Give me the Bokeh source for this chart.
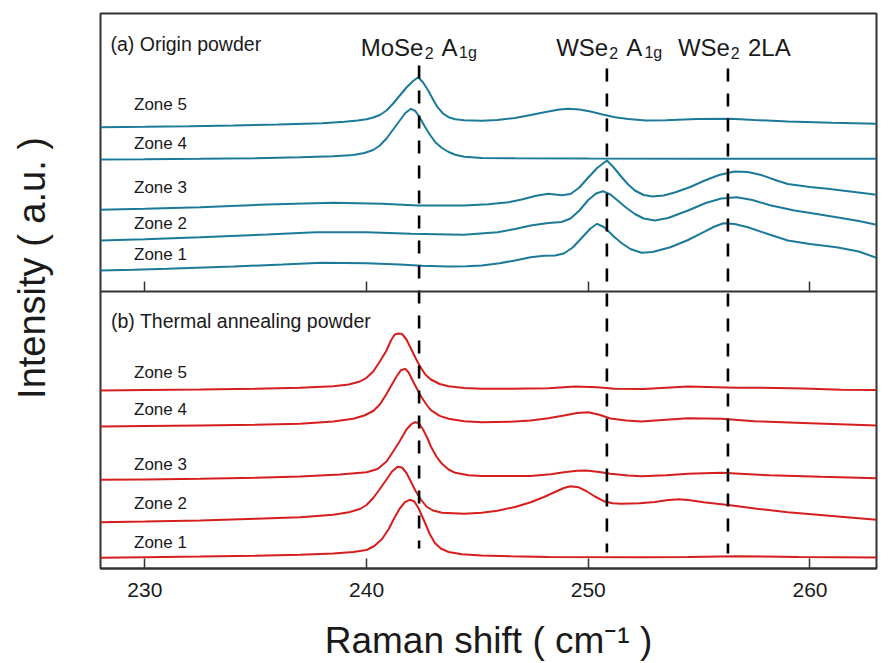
import math
from bokeh.plotting import figure
from bokeh.layouts import row
from bokeh.models import Range1d, LinearAxis, FixedTicker, Label
from bokeh.embed import file_html
from bokeh.resources import INLINE

# ---------------- data ----------------
x_ticks = [230, 240, 250, 260]
peak_positions = [242.37, 250.84, 256.3]          # MoSe2 A1g, WSe2 A1g, WSe2 2LA
zone_names = ["Zone 1", "Zone 2", "Zone 3", "Zone 4", "Zone 5"]

# (a) Origin powder, offset intensity (a.u.)
a_zone5_x = [228, 230, 232, 234, 236, 238, 239, 239.6, 240, 240.3, 240.6, 240.9, 241.2, 241.5, 241.8, 242.1,
             242.33, 242.55, 242.78, 243.0, 243.2, 243.45, 243.7, 244.0, 244.4, 245.2, 245.9, 246.7, 247.4,
             248.2, 248.7, 249.1, 249.6, 250.1, 250.6, 251.2, 251.8, 252.6, 253.5, 254.9, 256.4, 257.5, 259,
             261, 263]
a_zone5_y = [164.3, 164.7, 165.2, 166, 167, 168.3, 169.8, 171, 172.3, 174, 176.5, 181, 188, 196, 204, 210.5,
             214.3, 209, 201, 192, 184.3, 178, 174.3, 172.3, 171.2, 170.8, 171.4, 173.5, 176.5,
             180, 182, 182.7, 182, 180, 177.3, 174.3, 172.5, 171, 171.2, 172.5, 172.7, 171.5, 170,
             168.7, 167.7]
a_zone4_x = [228, 230, 232.5, 235, 237, 238.5, 239.4, 239.9, 240.3, 240.6, 240.9, 241.2, 241.5, 241.75, 242.0,
             242.2, 242.4, 242.6, 242.85, 243.1, 243.4, 243.7, 244.0, 244.4, 245.2, 246.7, 250, 255, 263]
a_zone4_y = [132, 132.3, 132.7, 133.3, 134.3, 135.3, 136.5, 138.5, 141.5, 146, 153, 162, 171, 178.5, 182.7,
             180.5, 174, 166, 157, 149.3, 143.5, 139.5, 136.8, 134.8, 133.6, 133.3, 132.9, 132.7, 132.7]
a_zone3_x = [228, 230, 232.5, 235.5, 238.5, 240.7, 242.33, 244.4, 245.5, 246.4, 247.0, 247.6, 248.2, 248.8,
             249.2, 249.6, 250.0, 250.4, 250.84, 251.15, 251.5, 251.8, 252.1, 252.5, 252.9, 253.4, 253.9,
             254.6, 255.2, 255.9, 256.6, 257.2, 257.8, 258.5, 259.0, 260, 260.8, 262, 263]
a_zone3_y = [81.7, 82.8, 84.3, 87, 88.7, 87.7, 86, 86, 87.3, 89.3, 92, 95.5, 97.7, 96.2,
             97.5, 104, 114, 123.5, 131, 124, 114.5, 107, 101, 96.5, 95, 96, 99,
             104.5, 110.5, 116.5, 120, 119.5, 116.5, 111, 107.5, 104.5, 102.7, 99.5, 96.7]
a_zone2_x = [228, 230, 232.5, 235.5, 237.7, 240, 242.0, 244.4, 245.9, 246.7, 247.4, 248.2, 248.8, 249.2,
             249.6, 250.0, 250.35, 250.66, 251.0, 251.3, 251.7, 252.1, 252.5, 253.0, 253.6, 254.5, 255.3,
             256.0, 256.7, 257.4, 258.2, 259.3, 260.3, 261.2, 262.2, 263]
a_zone2_y = [51, 52.3, 54.3, 57, 59.3, 59.3, 57.7, 56.7, 59.3, 62.5, 66, 68.5, 69.5, 73,
             81, 91.5, 98, 100.3, 97, 91.5, 84, 77.5, 73, 71, 73.5, 81, 88.5,
             93, 94.3, 91.5, 86.3, 81, 77.5, 74.3, 70.5, 66.7]
a_zone1_x = [228, 229.5, 231, 234, 236.2, 238, 240, 241.5, 242.5, 243.7, 244.5, 245.2, 246.0, 246.7, 247.4,
             248.0, 248.5, 248.9, 249.3, 249.7, 250.1, 250.4, 250.7, 250.9, 251.2, 251.5, 251.9, 252.4,
             252.9, 253.7, 254.5, 255.2, 255.7, 256.1, 256.6, 257.2, 258.1, 259.0, 260, 261.2, 262.2, 263]
a_zone1_y = [21, 21.7, 22.7, 25, 27, 28.8, 28.3, 27, 25.8, 25, 25.3, 26, 28.3, 31, 34.3,
             35.8, 36, 38, 44, 53.5, 63, 67.7, 64.5, 60.5, 54, 48.5, 42.5, 38.8,
             39.5, 44.3, 51.5, 59.3, 65, 68.3, 67.5, 64.3, 57.5, 51, 47.5, 44.3, 40, 33.7]

# (b) Thermal annealing powder, offset intensity (a.u.)
b_zone5_x = [228, 230, 232.5, 235, 237, 238.5, 239.2, 239.7, 240.0, 240.3, 240.6, 240.9, 241.1, 241.27,
             241.45, 241.6, 241.8, 242.0, 242.2, 242.4, 242.65, 242.9, 243.3, 243.7, 244.4, 245.2, 246.5,
             248.2, 249.4, 250.4, 251.2, 252.5, 254.5, 256.7, 258.5, 259.7, 261.4, 263]
b_zone5_y = [178, 178.4, 179, 179.8, 180.7, 182.3, 184, 187, 190.7, 197, 207, 218, 228, 234,
             235, 234.5, 229, 220, 211, 202.5, 194, 189, 184.5, 182.2, 180.6, 179.8, 179.8,
             180.3, 182, 181.3, 179.8, 179.4, 182, 180.7, 180.6, 180.1, 178.8, 178.6]
b_zone4_x = [228, 230, 232.5, 235, 237, 238.5, 239.4, 239.9, 240.3, 240.6, 240.9, 241.13, 241.35, 241.55,
             241.75, 241.9, 242.1, 242.3, 242.48, 242.7, 242.9, 243.3, 243.7, 244.4, 245.2, 246.5, 247.4,
             248.2, 248.9, 249.5, 250.0, 250.5, 251.0, 251.7, 252.4, 253.5, 254.5, 256.0, 257.5, 260, 263]
b_zone4_y = [142, 142.4, 143, 143.7, 144.7, 147, 149.7, 153, 157.5, 164, 174.5, 183.5, 192, 198.3,
             199.7, 196, 187, 178.5, 171.3, 164, 158.3, 152.6, 149.7, 147.2, 146.3, 146.8, 148,
             150.3, 153, 155.5, 156.3, 153.8, 150, 148, 147, 148.8, 150.3, 149.7, 147.2, 145.3, 143]
b_zone3_x = [228, 230, 232.5, 235, 237, 238.8, 240, 240.5, 240.9, 241.2, 241.5, 241.8, 242.0, 242.18,
             242.35, 242.55, 242.75, 242.9, 243.15, 243.4, 243.7, 244.0, 244.6, 245.2, 247.4, 248.3,
             248.9, 249.5, 249.9, 250.5, 251.0, 251.8, 252.4, 253.5, 254.5, 256.0, 258.2, 260.5, 263]
b_zone3_y = [88.7, 89.1, 89.7, 90.7, 92, 94, 96.3, 99.5, 107, 117, 127.5, 139, 144, 146.3,
             145.5, 139, 130, 122, 112, 104.7, 99, 95.7, 93.3, 92.4, 92.5, 94.3,
             96.3, 97.8, 98, 96.5, 94.7, 93, 92.2, 93.3, 94.7, 95.7, 93.2, 91.7, 90.3]
b_zone2_x = [228, 230, 232.5, 235, 237, 238.5, 239.2, 239.7, 240.0, 240.3, 240.6, 240.9, 241.15, 241.4,
             241.6, 241.8, 242.0, 242.2, 242.45, 242.7, 243.0, 243.4, 244.4, 245.2, 245.9, 246.7, 247.4,
             248.0, 248.5, 248.9, 249.2, 249.55, 249.9, 250.3, 250.7, 251.1, 251.5, 252.3, 253.0, 253.6,
             254.1, 254.6, 255.2, 256.4, 257.6, 259.0, 261, 263]
b_zone2_y = [46.3, 46.9, 48, 49.8, 51.3, 53.8, 56.3, 59.5, 63.5, 70.5, 79.5, 89, 97, 101.8,
             101, 95.5, 87, 78, 69, 62, 58, 55.8, 54.7, 55.8, 57.8, 61.5, 66.3,
             71.5, 76.5, 80.5, 82.3, 81.3, 77.5, 72, 67.3, 65.3, 64.7, 65.3, 66.5, 68.5,
             69.2, 68.3, 66.3, 63.2, 59.8, 56.3, 52.5, 48.7]
b_zone1_x = [228, 230, 232.5, 235, 237, 238.5, 239.4, 240.0, 240.35, 240.7, 241.0, 241.25, 241.5, 241.73,
             241.95, 242.15, 242.35, 242.63, 242.85, 243.08, 243.35, 243.7, 244.3, 245.2, 246.5, 248.2,
             252.5, 254.5, 256.7, 259.5, 263]
b_zone1_y = [10.7, 11.3, 12, 12.8, 13.7, 15, 16.5, 18.5, 22.5, 29.5, 39.5, 50.5, 60, 66.3,
             68.7, 67.2, 60, 46, 34.5, 25.5, 20, 16.5, 14.3, 13.1, 12.2, 11.4,
             11.3, 11.6, 12.3, 11.5, 10.9]

a_series = [(a_zone1_x, a_zone1_y), (a_zone2_x, a_zone2_y), (a_zone3_x, a_zone3_y),
            (a_zone4_x, a_zone4_y), (a_zone5_x, a_zone5_y)]
b_series = [(b_zone1_x, b_zone1_y), (b_zone2_x, b_zone2_y), (b_zone3_x, b_zone3_y),
            (b_zone4_x, b_zone4_y), (b_zone5_x, b_zone5_y)]

# ---------------- layout / style ----------------
FONT = "Liberation Sans"
TEAL = "#1c7a99"
RED = "#d71e1e"
FRAME = "#333333"
TEXT = "#1a1a1a"
W, H = 891, 663
LABEL_W = 99                      # strip on the left that carries the y-axis title
LEFT, RIGHT, TOP, BOTTOM = 100, 876, 13, 568
X0, X1 = 228, 263
PANEL = 277  # height of lower panel in y units (1 unit = 1 px)

# ---- strip with the y-axis title ----
yl = figure(width=LABEL_W, height=H, output_backend="svg", toolbar_location=None,
            x_range=Range1d(0, LABEL_W), y_range=Range1d(0, H), min_border=0,
            x_axis_location=None, y_axis_location=None)
yl.outline_line_color = None
yl.grid.visible = False
yl.background_fill_color = "white"
yl.border_fill_color = "white"
yl.add_layout(Label(x=31, y=359, text="Intensity ( a.u. )", angle=math.pi / 2,
                    text_align="center", text_baseline="alphabetic", text_font=FONT,
                    text_font_size="38px", text_color=TEXT))

# ---- main two-panel plot ----
p = figure(width=W - LABEL_W, height=H, output_backend="svg", toolbar_location=None,
           x_range=Range1d(X0, X1), y_range=Range1d(0, BOTTOM - TOP),
           y_axis_location=None,
           min_border_left=LEFT - LABEL_W, min_border_right=W - RIGHT,
           min_border_top=TOP, min_border_bottom=H - BOTTOM)
p.extra_y_ranges = {"top": Range1d(-PANEL, BOTTOM - TOP - PANEL)}
p.grid.visible = False
p.outline_line_color = FRAME
p.outline_line_width = 2
p.background_fill_color = "white"
p.border_fill_color = "white"

ax = p.xaxis[0]
ax.ticker = FixedTicker(ticks=x_ticks)
ax.major_tick_in = 10
ax.major_tick_out = 0
ax.minor_tick_line_color = None
ax.major_tick_line_color = FRAME
ax.major_tick_line_width = 1.5
ax.axis_line_color = FRAME
ax.axis_line_width = 2
ax.major_label_text_font = FONT
ax.major_label_text_font_size = "21px"
ax.major_label_text_color = TEXT
ax.major_label_standoff = 14
ax.axis_label = "Raman shift ( cm\u207b\u00b9 )"
ax.axis_label_text_font = FONT
ax.axis_label_text_font_size = "37px"
ax.axis_label_text_font_style = "normal"
ax.axis_label_text_color = TEXT
ax.axis_label_standoff = 20

# divider between the two panels, with inward ticks for the upper panel
div_axis = LinearAxis(fixed_location=PANEL, ticker=FixedTicker(ticks=x_ticks),
                      major_tick_in=10, major_tick_out=0,
                      minor_tick_line_color=None,
                      major_tick_line_color=FRAME, major_tick_line_width=1.5,
                      axis_line_color=FRAME, axis_line_width=2,
                      major_label_text_color=None)
p.add_layout(div_axis, "below")

# curves
for xs, ys in a_series:
    p.line(xs, ys, line_color=TEAL, line_width=2, y_range_name="top")
for xs, ys in b_series:
    p.line(xs, ys, line_color=RED, line_width=2)

# dashed reference lines through both panels
dash_top = [226, 223, 223]
dash_bottom = [20 - PANEL, 16 - PANEL, 15 - PANEL]
p.segment(x0=peak_positions, y0=dash_top, x1=peak_positions, y1=dash_bottom,
          line_color="black", line_width=2.6, line_dash="13 12", y_range_name="top")


def px_to_x(px):
    return X0 + (px - LEFT) * (X1 - X0) / (RIGHT - LEFT)


def py_to_y(py):
    return BOTTOM - py


def add_text(text, x, y, size, x_offset=0, align="left", baseline="alphabetic"):
    p.add_layout(Label(x=x, y=y, x_offset=x_offset, text=text, text_font=FONT,
                       text_font_size=f"{size}px", text_align=align, text_baseline=baseline,
                       text_color=TEXT))


# peak labels (pieces with subscripts)
MAIN, SUB = 24, 16
BASE, SUBBASE = py_to_y(46.5), py_to_y(52)
mo, wa, wl = peak_positions
add_text("MoSe", mo, BASE, MAIN, -58.4)
add_text("2", mo, SUBBASE, SUB, 5.6)
add_text("A", mo, BASE, MAIN, 22.3)
add_text("1g", mo, SUBBASE, SUB, 40.0)
add_text("WSe", wa, BASE, MAIN, -50.7)
add_text("2", wa, SUBBASE, SUB, 2.3)
add_text("A", wa, BASE, MAIN, 19.3)
add_text("1g", wa, SUBBASE, SUB, 37.5)
add_text("WSe", wl, BASE, MAIN, -50.0)
add_text("2", wl, SUBBASE, SUB, 2.7)
add_text("2LA", wl, BASE, MAIN, 20.0)

# panel titles
add_text("(a) Origin powder", px_to_x(110), py_to_y(43.5), 19.5)
add_text("(b) Thermal annealing powder", px_to_x(110.5), py_to_y(320), 19.5)

# zone labels
a_label_py = [254.3, 223, 186.5, 143.2, 104]
b_label_py = [542.3, 502.9, 464, 409, 372.3]
for name, py in zip(zone_names, a_label_py):
    add_text(name, px_to_x(133.5), py_to_y(py), 17, baseline="middle")
for name, py in zip(zone_names, b_label_py):
    add_text(name, px_to_x(133.5), py_to_y(py), 17, baseline="middle")

layout = row(yl, p, spacing=0)
open("out.html", "w").write(file_html(layout, INLINE))
